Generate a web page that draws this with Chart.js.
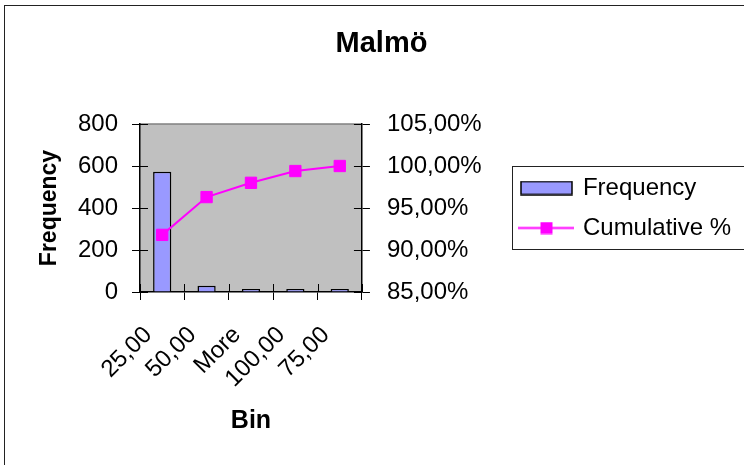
<!DOCTYPE html>
<html>
<head>
<meta charset="utf-8">
<script src="https://cdn.jsdelivr.net/npm/chart.js@4/dist/chart.umd.min.js"></script>
<style>
html,body{margin:0;padding:0;background:#fff;}
#wrap{position:relative;width:744px;height:465px;overflow:hidden;background:#fff;}
#frame{position:absolute;left:4px;top:5px;width:900px;height:700px;border:1px solid #222;box-sizing:border-box;}
canvas{position:absolute;left:0;top:0;}
</style>
</head>
<body>
<div id="wrap"><div id="frame"></div><canvas id="c" width="744" height="465"></canvas></div>
<script>
const categories = ["25,00", "50,00", "More", "100,00", "75,00"];
const frequency = [573, 30, 9, 9, 4];
const cumulativePct = [91.8, 96.3, 98.0, 99.4, 100.0];
const leftTicks = { min: 0, max: 800, step: 200 };
const rightTicks = { min: 85, max: 105, step: 5 };

const FONT = "'Liberation Sans', Arial, Helvetica, sans-serif";
const BAR_FILL = '#9999FF';
const LINE_COL = '#FF00FF';

function makeBarMarker() {
  const c = document.createElement('canvas');
  c.width = 53; c.height = 15;
  const x = c.getContext('2d');
  x.fillStyle = BAR_FILL;
  x.fillRect(1, 1, 51, 13);
  x.strokeStyle = '#000'; x.lineWidth = 1.5;
  x.strokeRect(1, 1, 51, 13);
  return c;
}
function makeLineMarker() {
  const c = document.createElement('canvas');
  c.width = 56; c.height = 13;
  const x = c.getContext('2d');
  x.strokeStyle = LINE_COL; x.lineWidth = 2;
  x.beginPath(); x.moveTo(0, 6.5); x.lineTo(56, 6.5); x.stroke();
  x.fillStyle = LINE_COL;
  x.fillRect(22, 0.5, 12, 12);
  return c;
}
const barMarker = makeBarMarker();
const lineMarker = makeLineMarker();

const plotBg = {
  id: 'plotBg',
  beforeDraw(chart) {
    const { ctx, chartArea: a } = chart;
    ctx.save();
    ctx.fillStyle = '#C0C0C0';
    ctx.fillRect(a.left, a.top, a.right - a.left, a.bottom - a.top);
    ctx.strokeStyle = '#808080';
    ctx.lineWidth = 1.5;
    ctx.beginPath(); ctx.moveTo(a.left, a.top); ctx.lineTo(a.right, a.top); ctx.stroke();
    ctx.restore();
  }
};

const innerTicks = {
  id: 'innerTicks',
  beforeDatasetsDraw(chart) {
    const { ctx, chartArea: a, scales } = chart;
    ctx.save();
    ctx.strokeStyle = '#000';
    ctx.lineWidth = 1;
    ctx.beginPath();
    scales.y.ticks.forEach((t, i) => {
      const y = Math.round(scales.y.getPixelForTick(i)) + 0.5;
      ctx.moveTo(a.left, y); ctx.lineTo(a.left + 8, y);
    });
    scales.y1.ticks.forEach((t, i) => {
      const y = Math.round(scales.y1.getPixelForTick(i)) + 0.5;
      ctx.moveTo(a.right - 8, y); ctx.lineTo(a.right, y);
    });
    const xs = scales.x;
    const n = categories.length;
    const w = (xs.right - xs.left) / n;
    for (let i = 0; i <= n; i++) {
      const x = Math.round(xs.left + i * w) + 0.5;
      ctx.moveTo(x, a.bottom - 8); ctx.lineTo(x, a.bottom);
    }
    ctx.stroke();
    ctx.restore();
  }
};

const legendBorder = {
  id: 'legendBorder',
  afterDraw(chart) {
    const lg = chart.legend;
    if (!lg || !lg.legendHitBoxes || !lg.legendHitBoxes.length) return;
    const hb = lg.legendHitBoxes;
    const top = hb[0].top - 10;
    const last = hb[hb.length - 1];
    const bottom = last.top + last.height + 9;
    const ctx = chart.ctx;
    ctx.save();
    ctx.strokeStyle = '#222';
    ctx.lineWidth = 1;
    ctx.strokeRect(Math.round(lg.left + 6) + 0.5, Math.round(top) + 0.5, 400, Math.round(bottom - top));
    ctx.restore();
  }
};

new Chart(document.getElementById('c'), {
  data: {
    labels: categories,
    datasets: [
      {
        type: 'bar',
        label: 'Frequency',
        data: frequency,
        yAxisID: 'y',
        backgroundColor: BAR_FILL,
        borderColor: '#000',
        borderWidth: 1.5,
        barPercentage: 0.41,
        categoryPercentage: 1.0,
        minBarLength: 3,
        order: 2
      },
      {
        type: 'line',
        label: 'Cumulative %',
        data: cumulativePct,
        yAxisID: 'y1',
        borderColor: LINE_COL,
        borderWidth: 2,
        pointStyle: 'rect',
        pointRadius: 8,
        pointBackgroundColor: LINE_COL,
        pointBorderColor: LINE_COL,
        pointBorderWidth: 1,
        tension: 0,
        order: 1
      }
    ]
  },
  options: {
    responsive: false,
    devicePixelRatio: 1,
    animation: false,
    events: [],
    layout: { padding: { left: 22, right: 3, top: 0, bottom: 0 } },
    plugins: {
      tooltip: { enabled: false },
      title: {
        display: true,
        text: 'Malmö',
        color: '#000',
        font: { family: FONT, size: 29, weight: 'bold' },
        padding: { top: 27, bottom: 62.2 }
      },
      legend: {
        display: true,
        position: 'right',
        align: 'center',
        fullSize: false,
        maxWidth: 400,
        labels: {
          color: '#000',
          font: { family: FONT, size: 24 },
          padding: 16,
          usePointStyle: true,
          pointStyleWidth: 49,
          generateLabels: () => [
            { text: 'Frequency', pointStyle: barMarker, datasetIndex: 0, hidden: false, fillStyle: BAR_FILL, strokeStyle: '#000', lineWidth: 0, fontColor: '#000' },
            { text: 'Cumulative %', pointStyle: lineMarker, datasetIndex: 1, hidden: false, fillStyle: LINE_COL, strokeStyle: LINE_COL, lineWidth: 0, fontColor: '#000' }
          ]
        }
      }
    },
    scales: {
      x: {
        type: 'category',
        offset: true,
        grid: { display: true, drawOnChartArea: false, drawTicks: true, tickLength: 8, color: '#000', lineWidth: 1, offset: true },
        border: { display: true, color: '#000', width: 1.5 },
        ticks: { color: '#000', font: { family: FONT, size: 24 }, minRotation: 45, maxRotation: 45, autoSkip: false, padding: 21, labelOffset: -14 },
        title: { display: true, text: 'Bin', color: '#000', font: { family: FONT, size: 25, weight: 'bold' }, padding: { top: 0, bottom: 29 } },
        afterFit(s) { s.height = 173; }
      },
      y: {
        position: 'left',
        min: leftTicks.min, max: leftTicks.max,
        grid: { display: true, drawOnChartArea: false, drawTicks: true, tickLength: 8, color: '#000', lineWidth: 1 },
        border: { display: true, color: '#000', width: 1.5 },
        ticks: { stepSize: leftTicks.step, color: '#000', font: { family: FONT, size: 24 }, padding: 14 },
        title: { display: true, text: 'Frequency', color: '#000', font: { family: FONT, size: 23, weight: 'bold' }, padding: { top: 14, bottom: 0 } },
        afterFit(s) { s.width = 118; }
      },
      y1: {
        position: 'right',
        min: rightTicks.min, max: rightTicks.max,
        grid: { display: true, drawOnChartArea: false, drawTicks: true, tickLength: 8, color: '#000', lineWidth: 1 },
        border: { display: true, color: '#000', width: 1.5 },
        ticks: {
          stepSize: rightTicks.step, color: '#000', font: { family: FONT, size: 24 }, padding: 17,
          callback: v => Number(v).toFixed(2).replace('.', ',') + '%'
        },
        afterFit(s) { s.width = 144; }
      }
    }
  },
  plugins: [plotBg, innerTicks, legendBorder]
});
</script>
</body>
</html>
